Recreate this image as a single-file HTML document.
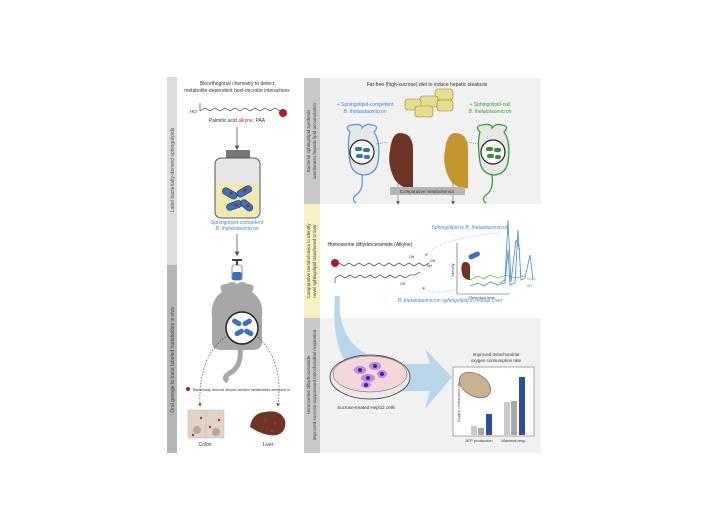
<!DOCTYPE html>
<html><head><meta charset="utf-8"><style>
html,body{margin:0;padding:0;background:#fff;}
svg{display:block;font-family:"Liberation Sans",sans-serif;}
</style></head><body>
<svg width="708" height="531" viewBox="0 0 708 531" xmlns="http://www.w3.org/2000/svg">
<defs>
<marker id="ah" markerWidth="6" markerHeight="6" refX="3" refY="3" orient="auto"><path d="M0,0 L6,3 L0,6z" fill="#555"/></marker>
<marker id="ab" markerWidth="6" markerHeight="6" refX="3" refY="3" orient="auto"><path d="M0,0 L6,3 L0,6z" fill="#6a9ad8"/></marker>
</defs>
<!-- LEFT PANEL -->
<rect x="167" y="77" width="10" height="188" fill="#dcdcdc"/>
<rect x="167" y="265" width="10" height="188" fill="#b5b5b5"/>
<text transform="translate(174,265) rotate(-90)" font-size="5" fill="#555" text-anchor="middle" x="95">Label bacterially-derived sphingolipids</text>
<text transform="translate(174,360) rotate(-90)" font-size="5" fill="#444" text-anchor="middle">Oral gavage to trace labeled metabolites in vivo</text>
<text x="237" y="85" font-size="5" fill="#333" text-anchor="middle">Bioorthogonal chemistry to detect</text>
<text x="237" y="92" font-size="5" fill="#333" text-anchor="middle">metabolite-dependent host-microbe interactions</text>
<polyline points="200,111 205,108 210,111 215,108 220,111 225,108 230,111 235,108 240,111 245,108 250,111 255,108 260,111 265,108 270,111 275,108 280,111" fill="none" stroke="#333" stroke-width="0.6"/>
<line x1="200" y1="111" x2="200" y2="103" stroke="#333" stroke-width="0.6"/>
<text x="190" y="113" font-size="4.5" fill="#333">HO</text>
<circle cx="283" cy="113" r="4" fill="#b01c2a"/>
<text x="237" y="122" font-size="5" fill="#333" text-anchor="middle">Palmitic acid <tspan fill="#c0282e">alkyne</tspan>, PAA</text>
<line x1="237" y1="127" x2="237" y2="148" stroke="#555" stroke-width="0.8" marker-end="url(#ah)"/>
<rect x="226" y="150" width="24" height="8" fill="#777"/>
<rect x="215" y="158" width="45" height="60" rx="6" fill="#e6e6e6" stroke="#555" stroke-width="1"/>
<rect x="216" y="183" width="43" height="34" rx="5" fill="#eeeab0"/>
<g fill="#3b6fc2" stroke="#223" stroke-width="0.5">
<rect x="222" y="190" width="16" height="7" rx="3.5" transform="rotate(30 230 193)"/>
<rect x="236" y="188" width="16" height="7" rx="3.5" transform="rotate(-30 244 191)"/>
<rect x="226" y="202" width="16" height="7" rx="3.5" transform="rotate(-20 234 205)"/>
<rect x="240" y="202" width="14" height="7" rx="3.5" transform="rotate(40 247 205)"/>
</g>
<g fill="#b01c2a"><circle cx="231" cy="193" r="1.5"/><circle cx="245" cy="190" r="1.5"/><circle cx="236" cy="205" r="1.5"/><circle cx="248" cy="206" r="1.5"/></g>
<text x="237" y="224" font-size="5" fill="#4a86d4" text-anchor="middle">Sphingolipid-competent</text>
<text x="237" y="230" font-size="5" fill="#4a86d4" text-anchor="middle" font-style="italic">B. thetaiotaomicron</text>
<line x1="237" y1="234" x2="237" y2="254" stroke="#555" stroke-width="0.8" marker-end="url(#ah)"/>
<rect x="232" y="259" width="10" height="2" fill="#444"/><rect x="236" y="261" width="2" height="4" fill="#444"/>
<rect x="232" y="265" width="10" height="15" rx="2" fill="#fff" stroke="#444" stroke-width="0.6"/>
<rect x="232.5" y="272" width="9" height="8" rx="2" fill="#3b6fc2"/>
<!-- mouse -->
<path d="M222,292 q-5,-8 5,-8 q5,-4 10,0 q5,-4 10,0 q10,0 5,8 q12,8 10,25 l0,25 q0,8 -10,8 l-30,0 q-10,0 -10,-8 l0,-25 q-2,-17 10,-25z" fill="#a7a7a7"/>
<path d="M240,348 q2,18 -10,25 q-8,5 -2,8" fill="none" stroke="#a7a7a7" stroke-width="5"/>
<circle cx="242" cy="328" r="16" fill="#fff" stroke="#222" stroke-width="1.5"/>
<g fill="#3b6fc2"><rect x="232" y="320" width="10" height="5" rx="2.5" transform="rotate(30 237 322)"/><rect x="242" y="320" width="10" height="5" rx="2.5" transform="rotate(-30 247 322)"/><rect x="234" y="330" width="10" height="5" rx="2.5" transform="rotate(-30 239 332)"/><rect x="244" y="330" width="10" height="5" rx="2.5" transform="rotate(30 249 332)"/></g>
<path d="M228,335 q-30,20 -28,70" fill="none" stroke="#333" stroke-width="0.6" stroke-dasharray="1.5,1.5" marker-end="url(#ah)"/>
<path d="M256,335 q28,25 22,70" fill="none" stroke="#333" stroke-width="0.6" stroke-dasharray="1.5,1.5" marker-end="url(#ah)"/>
<circle cx="188" cy="389" r="2" fill="#b01c2a"/>
<text x="193" y="391" font-size="3.8" fill="#333">Bacterially-derived alkyne-labeled metabolites detected in</text>
<rect x="188" y="410" width="18" height="28" fill="#e0d4c8" stroke="#bba" stroke-width="0.5"/>
<rect x="206" y="410" width="18" height="28" fill="#e0d4c8" stroke="#bba" stroke-width="0.5"/>
<circle cx="197" cy="430" r="4" fill="#b8a89a"/><circle cx="216" cy="432" r="4" fill="#b8a89a"/>
<g fill="#c0282e"><circle cx="201" cy="418" r="1.2"/><circle cx="210" cy="427" r="1.2"/><circle cx="193" cy="435" r="1.2"/><circle cx="219" cy="420" r="1.2"/></g>
<path d="M250,427 q2,-14 15,-15 q15,-3 20,8 q2,12 -8,15 q-12,2 -27,-8z" fill="#6e3527"/>
<g fill="#c0282e"><circle cx="265" cy="420" r="1.2"/><circle cx="275" cy="423" r="1.2"/><circle cx="272" cy="431" r="1.2"/></g>
<text x="205" y="446" font-size="5" fill="#333" text-anchor="middle">Colon</text>
<text x="268" y="446" font-size="5" fill="#333" text-anchor="middle">Liver</text>

<!-- RIGHT PANEL -->
<rect x="320" y="78" width="221" height="126" fill="#f1f1f1"/>
<rect x="320" y="318" width="221" height="135" fill="#f1f1f1"/>
<rect x="304" y="78" width="16" height="126" fill="#c9c9c9"/>
<rect x="304" y="204" width="16" height="114" fill="#f6f1c2"/>
<rect x="304" y="318" width="16" height="135" fill="#c9c9c9"/>
<text transform="translate(310,141) rotate(-90)" font-size="4.5" fill="#444" text-anchor="middle">Bacterial sphingolipid synthesis</text>
<text transform="translate(316,141) rotate(-90)" font-size="4.5" fill="#444" text-anchor="middle">ameliorates hepatic lipid accumulation</text>
<text transform="translate(310,261) rotate(-90)" font-size="4.5" fill="#444" text-anchor="middle">Comparative metabolomics to identify</text>
<text transform="translate(316,261) rotate(-90)" font-size="4.5" fill="#444" text-anchor="middle">novel sphingolipid transferred to liver</text>
<text transform="translate(310,385) rotate(-90)" font-size="4.5" fill="#444" text-anchor="middle">Homoserine dihydroceramide</text>
<text transform="translate(316,385) rotate(-90)" font-size="4.5" fill="#444" text-anchor="middle">improved sucrose-suppressed mitochondrial respiration</text>
<!-- top -->
<text x="427" y="86" font-size="5" fill="#333" text-anchor="middle">Fat-free (high-sucrose) diet to induce hepatic steatosis</text>
<g fill="#e6de8c" stroke="#8a8440" stroke-width="0.6">
<rect x="435" y="89" width="18" height="11" rx="3"/><rect x="420" y="96" width="18" height="11" rx="3"/><rect x="405" y="99" width="16" height="11" rx="3"/><rect x="437" y="100" width="16" height="11" rx="3"/><rect x="415" y="106" width="18" height="11" rx="3"/>
</g>
<text x="365" y="106" font-size="5" fill="#4a86d4" text-anchor="middle">+ Sphingolipid-competent</text>
<text x="365" y="113" font-size="5" fill="#4a86d4" text-anchor="middle" font-style="italic">B. thetaiotaomicron</text>
<text x="490" y="106" font-size="5" fill="#3f9a3f" text-anchor="middle">+ Sphingolipid-null</text>
<text x="490" y="113" font-size="5" fill="#3f9a3f" text-anchor="middle" font-style="italic">B. thetaiotaomicron</text>
<path d="M350,132 q-6,-6 2,-7 q10,-2 10,3 q4,-5 10,-3 q8,1 2,7 q7,10 4,30 q-2,12 -14,13 q-12,-1 -14,-13 q-3,-20 0,-30z" fill="#e8e8e8" stroke="#5b9ad8" stroke-width="1.3"/>
<path d="M362,175 q2,15 -6,20 q-5,4 0,8" fill="none" stroke="#5b9ad8" stroke-width="1.3"/>
<circle cx="362" cy="152" r="12" fill="#fff" stroke="#222" stroke-width="1.2"/>
<g fill="#3b6fc2"><rect x="355" y="147" width="7" height="4" rx="2"/><rect x="363" y="148" width="7" height="4" rx="2"/><rect x="356" y="154" width="7" height="4" rx="2"/><rect x="364" y="155" width="6" height="4" rx="2"/></g>
<path d="M492,132 q-6,-6 2,-7 q10,-2 10,3 q4,-5 10,-3 q8,1 2,7 q7,10 4,30 q-2,12 -14,13 q-12,-1 -14,-13 q-3,-20 0,-30z" fill="#e8e8e8" stroke="#3f9a3f" stroke-width="1.3" transform="translate(-12,0)"/>
<path d="M492,175 q2,15 -6,20 q-5,4 0,8" fill="none" stroke="#3f9a3f" stroke-width="1.3"/>
<circle cx="493" cy="152" r="12" fill="#fff" stroke="#222" stroke-width="1.2"/>
<g fill="#3a8a3a"><rect x="486" y="147" width="7" height="4" rx="2"/><rect x="494" y="148" width="7" height="4" rx="2"/><rect x="487" y="154" width="7" height="4" rx="2"/><rect x="495" y="155" width="6" height="4" rx="2"/></g>
<path d="M400,133 q14,0 13,20 l0,35 q-10,2 -18,-8 q-8,-15 -5,-30 q2,-17 10,-17z" fill="#6e3527"/>
<path d="M455,133 q14,0 13,20 l0,35 q-10,2 -18,-8 q-8,-15 -5,-30 q2,-17 10,-17z" fill="#c4962e"/>
<line x1="376" y1="144" x2="388" y2="142" stroke="#444" stroke-width="0.5" stroke-dasharray="1,1"/>
<line x1="478" y1="144" x2="467" y2="142" stroke="#444" stroke-width="0.5" stroke-dasharray="1,1"/>
<line x1="398" y1="180" x2="398" y2="203" stroke="#666" stroke-width="0.6" marker-end="url(#ah)"/>
<line x1="453" y1="180" x2="453" y2="203" stroke="#666" stroke-width="0.6" marker-end="url(#ah)"/>
<rect x="390" y="187" width="75" height="8" fill="#b5b5b5"/>
<text x="427" y="193" font-size="4.5" fill="#333" text-anchor="middle">Comparative metabolomics</text>
<!-- middle -->
<text x="370" y="246" font-size="5" fill="#222" text-anchor="middle">Homoserine dihydroceramide (Alkyne)</text>
<circle cx="335" cy="263" r="4" fill="#b01c2a"/>
<polyline points="339,263 344,266 349,263 354,266 359,263 364,266 369,263 374,266 379,263 384,266 389,263 394,266 399,263 404,266 409,263 414,266 419,263 424,266 429,263" fill="none" stroke="#222" stroke-width="0.6"/>
<polyline points="335,278 340,275 345,278 350,275 355,278 360,275 365,278 370,275 375,278 380,275 385,278 390,275 395,278 400,275 405,278 410,275 415,275 420,272" fill="none" stroke="#222" stroke-width="0.6"/>
<line x1="335" y1="278" x2="335" y2="283" stroke="#222" stroke-width="0.6"/>
<text x="409" y="258" font-size="3.5" fill="#222">OH</text><text x="427" y="267" font-size="3.5" fill="#222">NH</text><text x="430" y="262" font-size="3.5" fill="#222">OH</text><text x="400" y="285" font-size="3.5" fill="#222">OH</text>
<text x="470" y="229" font-size="5" fill="#4a86d4" text-anchor="middle">Sphingolipid in <tspan font-style="italic">B. thetaiotaomicron</tspan></text>
<path d="M500,233 q-60,5 -74,22" fill="none" stroke="#6a9ad8" stroke-width="0.5" stroke-dasharray="1.5,1.5" marker-end="url(#ab)"/>
<path d="M455,290 q-20,5 -32,-2" fill="none" stroke="#6a9ad8" stroke-width="0.5" stroke-dasharray="1.5,1.5" marker-end="url(#ab)"/>
<line x1="457" y1="243" x2="457" y2="294" stroke="#555" stroke-width="0.6"/>
<line x1="457" y1="294" x2="510" y2="294" stroke="#555" stroke-width="0.6"/>
<path d="M465,262 q6,0 5,8 l0,10 q-6,0 -8,-6 q-2,-12 3,-12z" fill="#6e3527"/>
<rect x="468" y="253" width="12" height="5" rx="2.5" fill="#3b6fc2" transform="rotate(-25 474 255)"/>
<polyline points="470,280 478,276 484,279 490,275 498,278 506,275 515,278 525,276" fill="none" stroke="#6abf3a" stroke-width="0.8"/>
<polyline points="470,286 478,283 484,286 490,282 498,285 505,283 508,250 510,285 515,283 518,230 521,280 525,278 530,255 533,280" fill="none" stroke="#4a86d4" stroke-width="0.8"/>
<polyline points="500,283 505,280 508,220 511,282 516,240 520,250" fill="none" stroke="#4a86d4" stroke-width="0.8"/>
<text x="527" y="280" font-size="3.5" fill="#6abf3a">NULL</text><text x="527" y="287" font-size="3.5" fill="#4a86d4">WT</text>
<text x="482" y="299" font-size="4" fill="#444" text-anchor="middle">Retention time</text>
<text transform="translate(454,270) rotate(-90)" font-size="3.5" fill="#444" text-anchor="middle">Intensity</text>
<text x="450" y="302" font-size="5" fill="#4a86d4" text-anchor="middle" font-style="italic">B. thetaiotaomicron sphingolipid in mouse Liver</text>
<!-- bottom -->
<path d="M340,296 q-5,60 60,68 l30,0 l-5,-15 l27,28 l-27,32 l5,-18 l-40,0 q-62,-10 -55,-95z" fill="#b8d6ea"/>
<ellipse cx="370" cy="377" rx="40" ry="22" fill="#eaeaea" stroke="#333" stroke-width="0.8"/>
<ellipse cx="370" cy="374" rx="37" ry="18" fill="#f2d6d8" stroke="#555" stroke-width="0.5"/>
<g fill="#b58ee0"><ellipse cx="360" cy="370" rx="6" ry="4"/><ellipse cx="375" cy="366" rx="6" ry="4"/><ellipse cx="368" cy="378" rx="7" ry="4"/><ellipse cx="382" cy="374" rx="5" ry="4"/><ellipse cx="366" cy="385" rx="5" ry="3"/></g>
<g fill="#4a1aa0"><circle cx="360" cy="370" r="2"/><circle cx="375" cy="366" r="2"/><circle cx="368" cy="378" r="2"/><circle cx="382" cy="374" r="2"/><circle cx="366" cy="385" r="2"/></g>
<text x="366" y="409" font-size="4.5" fill="#333" text-anchor="middle">Sucrose-treated HepG2 cells</text>
<text x="496" y="356" font-size="4.5" fill="#333" text-anchor="middle">Improved mitochondrial</text>
<text x="496" y="362" font-size="4.5" fill="#333" text-anchor="middle">oxygen consumption rate</text>
<rect x="453" y="367" width="81" height="69" fill="#fff" stroke="#555" stroke-width="0.5"/>
<ellipse cx="475" cy="385" rx="17" ry="11" fill="#c9b18f" stroke="#8a7358" stroke-width="0.8" transform="rotate(30 475 385)"/>
<rect x="471" y="426" width="6" height="9" fill="#c9c9c9"/>
<rect x="478" y="428" width="6" height="7" fill="#a8a8a8"/>
<rect x="486" y="414" width="6" height="21" fill="#2f4f9a"/>
<rect x="504" y="402" width="6" height="33" fill="#c9c9c9"/>
<rect x="511" y="401" width="6" height="34" fill="#a8a8a8"/>
<rect x="519" y="377" width="6" height="58" fill="#2f4f9a"/>
<text transform="translate(460,402) rotate(-90)" font-size="3.5" fill="#444" text-anchor="middle">Oxygen consumption rate</text>
<text x="479" y="442" font-size="4" fill="#333" text-anchor="middle">ATP production</text>
<text x="514" y="442" font-size="4" fill="#333" text-anchor="middle">Maximal resp.</text>
</svg>
</body></html>
